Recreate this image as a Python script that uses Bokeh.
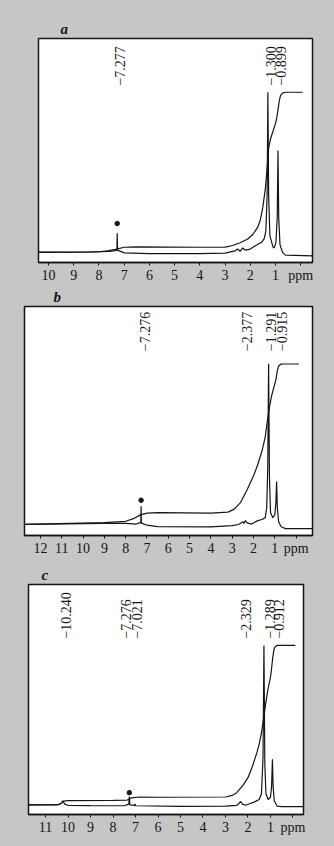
import math
from bokeh.plotting import figure
from bokeh.layouts import column
from bokeh.models import Range1d, FixedTicker, ColumnDataSource
from bokeh.core.properties import value
from bokeh.embed import file_html
from bokeh.resources import INLINE

# ---------------- data (ppm, relative intensity %) ----------------
# panel a
a_ticks = [10, 9, 8, 7, 6, 5, 4, 3, 2, 1, 0]
a_spec_ppm = [10.4, 8.5, 7.6, 7.35, 7.29, 7.277, 7.265, 7.0, 6.0, 4.0, 3.0, 2.6, 2.5, 2.4, 2.3, 2.2,
              2.0, 1.8, 1.65, 1.55, 1.45, 1.38, 1.33, 1.30, 1.27, 1.22, 1.1, 1.05, 0.98, 0.93, 0.899,
              0.87, 0.82, 0.72, 0.6, -0.47]
a_spec_int = [4.5, 4.6, 5.0, 5.3, 5.5, 13.0, 5.5, 4.3, 4.0, 4.0, 4.2, 5.2, 6.0, 5.0, 6.5, 5.5,
              6.0, 7.5, 8.5, 9.0, 10.5, 14.0, 30.0, 76.0, 30.0, 12.0, 7.0, 6.5, 9.0, 20.0, 50.0,
              20.0, 8.0, 4.5, 3.3, 3.0]
a_int_ppm = [10.4, 8.0, 7.6, 7.3, 7.0, 6.5, 4.0, 3.0, 2.7, 2.4, 2.1, 1.9, 1.7, 1.6, 1.5, 1.4, 1.33,
             1.3, 1.27, 1.2, 1.1, 1.0, 0.95, 0.9, 0.85, 0.8, 0.72, 0.6, -0.08]
a_int_val = [4.6, 4.8, 5.3, 6.0, 6.8, 7.0, 6.8, 6.9, 7.6, 8.8, 10.5, 12.5, 15.8, 19.0, 24.7, 33.0, 42.0,
             47.0, 51.0, 55.0, 58.5, 62.0, 64.5, 68.0, 72.0, 74.5, 75.6, 76.0, 76.0]
a_peaks = [7.277, 1.300, 0.899]
a_peak_text = ["\u22127.277", "\u22121.300", "\u22120.899"]
a_solvent = [7.277]
a_solvent_int = [17.4]

# panel b
b_ticks = [12, 11, 10, 9, 8, 7, 6, 5, 4, 3, 2, 1, 0]
b_spec_ppm = [12.75, 9.0, 8.0, 7.5, 7.35, 7.29, 7.276, 7.265, 7.2, 7.0, 6.5, 4.0, 3.0, 2.7, 2.5, 2.45,
              2.377, 2.3, 2.1, 2.0, 1.8, 1.6, 1.45, 1.38, 1.33, 1.291, 1.25, 1.2, 1.1, 1.0, 0.95,
              0.915, 0.88, 0.82, 0.7, 0.5, -0.77]
b_spec_int = [4.9, 5.3, 5.3, 5.0, 5.5, 5.6, 12.8, 5.5, 5.2, 4.5, 3.9, 3.8, 4.3, 4.8, 6.0, 5.3,
              6.5, 5.5, 5.0, 5.5, 6.5, 7.0, 7.8, 12.0, 30.0, 75.0, 25.0, 10.0, 7.8, 9.0, 14.0,
              23.6, 12.0, 6.0, 3.8, 3.0, 3.0]
b_int_ppm = [12.75, 9.0, 8.0, 7.6, 7.3, 7.0, 6.5, 4.0, 3.2, 2.9, 2.6, 2.3, 2.1, 2.0, 1.8, 1.6, 1.45,
             1.35, 1.25, 1.15, 1.05, 0.95, 0.88, 0.82, 0.72, 0.6, -0.13]
b_int_val = [4.9, 5.6, 6.2, 7.5, 9.0, 9.8, 10.0, 9.8, 10.2, 11.5, 14.5, 20.0, 24.0, 26.0, 31.0, 37.0,
             43.0, 50.0, 56.0, 61.0, 64.5, 68.0, 72.0, 74.0, 74.8, 74.9, 74.9]
b_peaks = [7.276, 2.377, 1.291, 0.915]
b_peak_text = ["\u22127.276", "\u22122.377", "\u22121.291", "\u22120.915"]
b_solvent = [7.276]
b_solvent_int = [15.4]

# panel c
c_ticks = [11, 10, 9, 8, 7, 6, 5, 4, 3, 2, 1, 0]
c_spec_ppm = [11.76, 10.5, 10.3, 10.24, 10.15, 10.0, 9.0, 7.5, 7.3, 7.276, 7.25, 7.05, 7.021, 7.0,
              5.0, 3.0, 2.5, 2.4, 2.329, 2.25, 2.1, 1.9, 1.7, 1.5, 1.4, 1.33, 1.289, 1.25, 1.2,
              1.1, 1.0, 0.95, 0.912, 0.88, 0.83, 0.7, 0.5, -0.47]
c_spec_int = [4.2, 4.2, 4.8, 6.0, 4.5, 4.0, 3.9, 3.8, 4.5, 7.8, 4.2, 4.0, 4.6, 3.8,
              3.5, 3.6, 4.0, 4.8, 5.7, 4.5, 4.0, 4.8, 5.5, 6.5, 9.0, 25.0, 73.5, 22.0, 9.0,
              6.5, 7.5, 12.0, 24.0, 12.0, 6.0, 3.6, 3.4, 3.4]
c_int_ppm = [11.76, 10.4, 10.3, 10.2, 10.0, 8.0, 7.4, 7.3, 7.2, 6.8, 6.0, 3.0, 2.7, 2.5, 2.3, 2.2,
             2.0, 1.8, 1.6, 1.5, 1.4, 1.3, 1.2, 1.1, 1.0, 0.95, 0.9, 0.85, 0.8, 0.7, -0.11]
c_int_val = [4.2, 4.3, 5.0, 5.8, 6.0, 6.1, 6.2, 6.6, 7.2, 7.6, 7.5, 7.6, 8.3, 9.5, 11.8, 13.0,
             16.0, 21.0, 27.0, 30.6, 35.5, 42.0, 49.0, 55.0, 59.6, 63.5, 68.0, 71.5, 72.8, 73.5, 73.5]
c_peaks = [10.240, 7.276, 7.021, 2.329, 1.289, 0.912]
c_peak_text = ["\u221210.240", "\u22127.276", "\u22127.021", "\u22122.329", "\u22121.289", "\u22120.912"]
c_solvent = [7.276]
c_solvent_int = [9.5]

BG = "#c6c6c6"
INK = "#151515"
SERIF = "Liberation Serif"


def panel(letter, x_lo, x_hi, ticks, sx, sy, ix, iy, peaks, ptext, sol_x, sol_y,
          label_y, lbl_dx, left, fw, right, top, fh, bottom, title_off):
    p = figure(frame_width=fw, frame_height=fh,
               min_border_left=left, min_border_right=right,
               min_border_top=top, min_border_bottom=bottom,
               x_range=Range1d(x_lo, x_hi), y_range=Range1d(0, 100),
               y_axis_location=None, output_backend="svg", toolbar_location=None,
               background_fill_color="white", border_fill_color=BG,
               outline_line_color=INK, outline_line_width=1.5,
               title=letter)
    p.frame_align = False
    p.title.align = "left"
    p.title.offset = title_off
    p.title.standoff = 3
    p.title.text_font = SERIF
    p.title.text_font_style = "bold italic"
    p.title.text_font_size = "15px"
    p.title.text_color = INK

    p.xgrid.visible = False
    p.ygrid.visible = False
    ax = p.xaxis[0]
    ax.ticker = FixedTicker(ticks=ticks)
    ax.major_label_overrides = {0: "ppm"}
    ax.major_tick_in = 0
    ax.major_tick_out = 3
    ax.minor_tick_line_color = None
    ax.axis_line_color = INK
    ax.axis_line_width = 1.5
    ax.major_tick_line_color = INK
    ax.major_label_standoff = 2
    ax.major_label_text_font = SERIF
    ax.major_label_text_font_size = "14px"
    ax.major_label_text_color = INK

    p.line(ix, iy, line_color=INK, line_width=1.2)
    p.line(sx, sy, line_color=INK, line_width=1.2)
    p.scatter(sol_x, sol_y, size=4.5, color=INK)
    src = ColumnDataSource(dict(x=peaks, y=[label_y] * len(peaks), t=ptext, dx=lbl_dx))
    p.text(x="x", y="y", text="t", x_offset="dx", source=src, angle=math.pi / 2,
           text_align="left", text_baseline="middle",
           text_font=value(SERIF), text_font_size="14px", text_color=INK)
    return p


pa = panel("a", 10.4, -0.47, a_ticks, a_spec_ppm, a_spec_int, a_int_ppm, a_int_val,
           a_peaks, a_peak_text, a_solvent, a_solvent_int, 79, [3, 3, 3.5],
           38, 274, 22, 38, 224, 23, 22)
pb = panel("b", 12.75, -0.77, b_ticks, b_spec_ppm, b_spec_int, b_int_ppm, b_int_val,
           b_peaks, b_peak_text, b_solvent, b_solvent_int, 80.5, [4, 2, 2.5, 5],
           24, 288, 22, 18, 229, 28, 29)
pc = panel("c", 11.76, -0.47, c_ticks, c_spec_ppm, c_spec_int, c_int_ppm, c_int_val,
           c_peaks, c_peak_text, c_solvent, c_solvent_int, 76.5, [3, -3, 1.5, 5, 6, 7],
           28, 275, 31, 17, 230, 39, 13)

layout = column(pa, pb, pc, spacing=0, styles={"background-color": BG})
open("out.html", "w").write(file_html(layout, INLINE))
